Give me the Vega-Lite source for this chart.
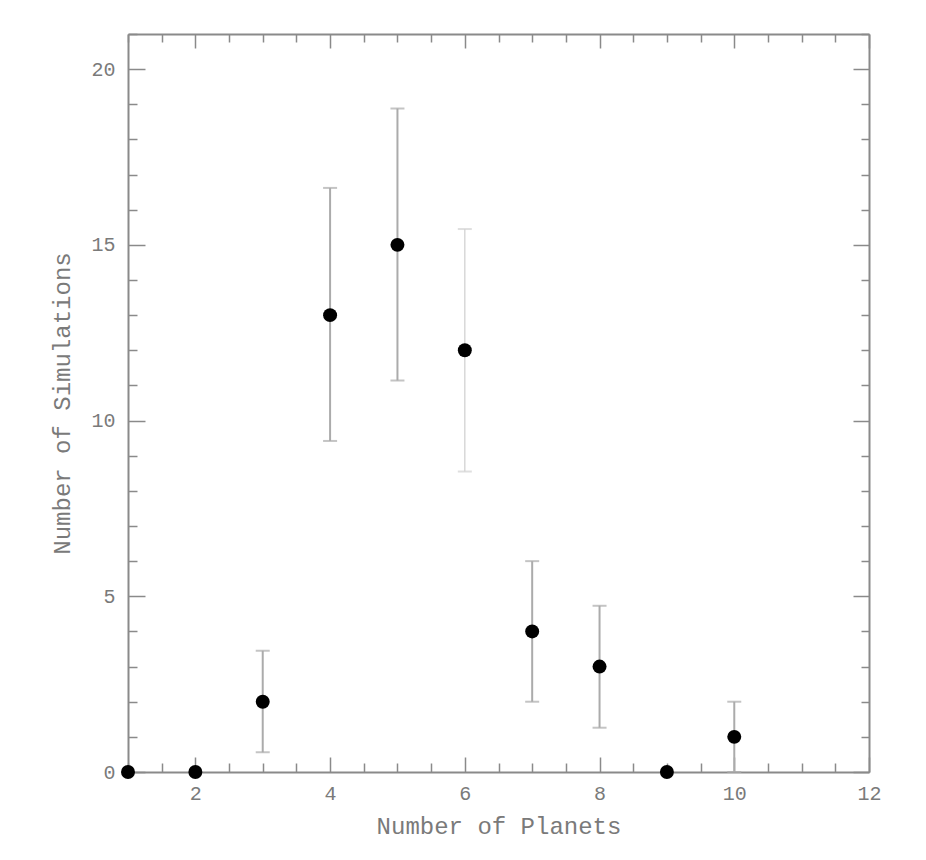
{
  "$schema": "https://vega.github.io/schema/vega-lite/v6.json",
  "autosize": "none",
  "width": 741,
  "height": 738,
  "padding": {"left": 128, "top": 34, "right": 57, "bottom": 88},
  "background": "white",
  "config": {
    "view": {"stroke": null},
    "axis": {
      "grid": false,
      "domainColor": "#8a8a8a",
      "domainWidth": 2,
      "tickColor": "#8a8a8a",
      "tickWidth": 1.5,
      "labelFont": "Liberation Mono",
      "labelFontSize": 20,
      "labelColor": "#7a7a7a",
      "titleFont": "Liberation Mono",
      "titleFontSize": 24,
      "titleFontWeight": "normal",
      "titleColor": "#7a7a7a",
      "labelOverlap": false,
      "labelFlush": false
    }
  },
  "data": {
    "values": [
      {"n": 1, "sims": 0, "lo": null, "hi": null},
      {"n": 2, "sims": 0, "lo": null, "hi": null},
      {"n": 3, "sims": 2, "lo": 0.56, "hi": 3.45},
      {"n": 4, "sims": 13, "lo": 9.42, "hi": 16.62},
      {"n": 5, "sims": 15, "lo": 11.14, "hi": 18.88},
      {"n": 6, "sims": 12, "lo": 8.55, "hi": 15.45},
      {"n": 7, "sims": 4, "lo": 2.0, "hi": 6.0},
      {"n": 8, "sims": 3, "lo": 1.26, "hi": 4.73},
      {"n": 9, "sims": 0, "lo": null, "hi": null},
      {"n": 10, "sims": 1, "lo": 0, "hi": 2.0}
    ]
  },
  "resolve": {"axis": {"x": "independent", "y": "independent"}},
  "layer": [
    {
      "transform": [{"filter": "isValid(datum.lo)"}],
      "mark": {"type": "rule"},
      "encoding": {
        "x": {
          "field": "n", "type": "quantitative",
          "scale": {"domain": [1, 12], "nice": false, "zero": false},
          "axis": {
            "orient": "bottom",
            "title": "Number of Planets",
            "values": [1, 1.5, 2, 2.5, 3, 3.5, 4, 4.5, 5, 5.5, 6, 6.5, 7, 7.5, 8, 8.5, 9, 9.5, 10, 10.5, 11, 11.5, 12],
            "labelExpr": "datum.value % 2 === 0 ? '' + datum.value : ''",
            "tickSize": {"condition": {"test": "datum.value % 2 === 0", "value": -15}, "value": -9},
            "labelPadding": 26,
            "titlePadding": 5
          }
        },
        "y": {
          "field": "lo", "type": "quantitative",
          "scale": {"domain": [0, 21], "nice": false},
          "axis": {
            "orient": "left",
            "title": "Number of Simulations",
            "values": [0, 1, 2, 3, 4, 5, 6, 7, 8, 9, 10, 11, 12, 13, 14, 15, 16, 17, 18, 19, 20, 21],
            "labelExpr": "datum.value % 5 === 0 ? '' + datum.value : ''",
            "tickSize": {"condition": {"test": "datum.value % 5 === 0", "value": -17}, "value": -9},
            "labelPadding": 30,
            "titlePadding": 16
          }
        },
        "y2": {"field": "hi"},
        "color": {"condition": {"test": "datum.n === 6", "value": "#d2d2d2"}, "value": "#ababab"},
        "strokeWidth": {"condition": {"test": "datum.n === 6", "value": 1.3}, "value": 2}
      }
    },
    {
      "transform": [{"filter": "isValid(datum.lo)"}],
      "mark": {"type": "tick", "orient": "horizontal", "thickness": 2},
      "encoding": {
        "x": {"field": "n", "type": "quantitative", "axis": null},
        "y": {"field": "lo", "type": "quantitative", "axis": null},
        "size": {"value": 14},
        "color": {"condition": {"test": "datum.n === 6", "value": "#d2d2d2"}, "value": "#ababab"}
      }
    },
    {
      "transform": [{"filter": "isValid(datum.hi)"}],
      "mark": {"type": "tick", "orient": "horizontal", "thickness": 2},
      "encoding": {
        "x": {"field": "n", "type": "quantitative", "axis": null},
        "y": {"field": "hi", "type": "quantitative", "axis": null},
        "size": {"value": 14},
        "color": {"condition": {"test": "datum.n === 6", "value": "#d2d2d2"}, "value": "#ababab"}
      }
    },
    {
      "mark": {"type": "circle", "opacity": 1},
      "encoding": {
        "x": {
          "field": "n", "type": "quantitative",
          "axis": {
            "orient": "top",
            "title": null,
            "labels": false,
            "values": [1, 1.5, 2, 2.5, 3, 3.5, 4, 4.5, 5, 5.5, 6, 6.5, 7, 7.5, 8, 8.5, 9, 9.5, 10, 10.5, 11, 11.5, 12],
            "tickSize": {"condition": {"test": "datum.value % 2 === 0", "value": -14}, "value": -8}
          }
        },
        "y": {
          "field": "sims", "type": "quantitative",
          "axis": {
            "orient": "right",
            "title": null,
            "labels": false,
            "values": [0, 1, 2, 3, 4, 5, 6, 7, 8, 9, 10, 11, 12, 13, 14, 15, 16, 17, 18, 19, 20, 21],
            "tickSize": {"condition": {"test": "datum.value % 5 === 0", "value": -16}, "value": -8}
          }
        },
        "size": {"value": 195},
        "color": {"value": "black"}
      }
    }
  ]
}
